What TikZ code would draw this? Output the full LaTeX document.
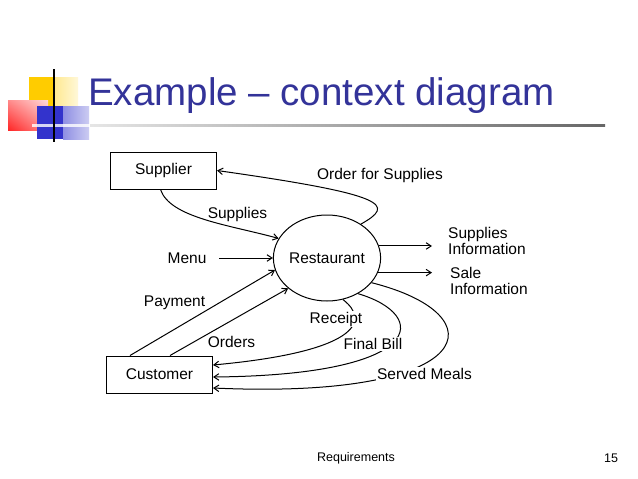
\documentclass[tikz,border=0pt]{standalone}
\usepackage{fontspec}
\setmainfont{Liberation Sans}
\usetikzlibrary{arrows.meta,shapes.geometric,shadings}
\definecolor{titleblue}{RGB}{51,51,153}
\definecolor{gold}{RGB}{255,204,0}
\definecolor{lblue}{RGB}{51,51,204}
\tikzset{
  ent/.style={draw, line width=1pt, minimum width=106pt, minimum height=37pt, inner sep=0pt, font=\fontsize{15.5}{17}\selectfont},
  proc/.style={draw, line width=1pt, ellipse, minimum width=102pt, minimum height=86pt, inner sep=0pt, font=\fontsize{15.5}{17}\selectfont},
  lbl/.style={inner sep=0pt, font=\fontsize{15.5}{17}\selectfont},
  cover/.style={fill=white, inner sep=1pt},
  flow/.style={line width=1pt, -{Straight Barb[length=5pt,width=6.5pt]}},
}
\begin{document}
\begin{tikzpicture}[x=1pt,y=-1pt]
\useasboundingbox (0,0) rectangle (638,479);
\fill[white] (0,0) rectangle (638,479);
% logo
\fill[gold] (29,77) rectangle (53,108);
\shade[left color=gold!45, right color=gold!15] (53,77) rectangle (78,108);
\shade[lower left=red!85, upper right=red!15, lower right=red!45, upper left=red!45] (8,100) rectangle (48,130);
\fill[lblue] (37,106) rectangle (63,139);
\shade[left color=lblue!55, right color=lblue!25] (63,106) rectangle (89,139);
\fill[white, opacity=0.8] (32,124) rectangle (90,126.5);
\draw[line width=2pt, black] (54,69) -- (54,142);
% title
\node[anchor=base west, inner sep=0pt, text=titleblue, font=\fontsize{38.5}{40}\selectfont] (title) at (88,105) {Example – context diagram};
\shade[left color=gray!20, right color=gray!80!black] (90,124) rectangle (605,126.5);
% nodes
\node[ent] (supplier) at (163.5,170.5) {Supplier};
\node[ent] (customer) at (159.5,374.5) {Customer};
\node[proc] (rest) at (327,258) {Restaurant};
\coordinate (sie) at (432,247);
\coordinate (sae) at (432,273);
\coordinate (menus) at (219,258);
% flows
\draw[flow] (rest.45) .. controls (395,205) and (390,195) .. (supplier.east);
\draw[flow] ([xshift=-3pt]supplier.south) .. controls (170,218) and (230,225) .. (rest.158);
\draw[flow] (menus) -- (rest.west);
\draw[flow] ([xshift=-29.5pt]customer.north) -- (rest.193);
\draw[flow] ([xshift=10.5pt]customer.north) -- (rest.218);
\draw[flow] (rest.291) .. controls (372,322) and (355,352) .. ([yshift=9.5pt]customer.east);
\draw[flow] (rest.311) .. controls (430,315) and (428,375) .. ([yshift=-2.5pt]customer.east);
\draw[flow] (rest.331) .. controls (500,315) and (480,400) .. ([yshift=-13.5pt]customer.east);
\draw[flow] (rest.13) -- (rest.13 -| sie);
\draw[flow] (rest.-16) -- (rest.-16 -| sae);
% labels
\node[lbl] (l1) at (380,175) {Order for Supplies};
\node[lbl] (l2) at (237.5,214) {Supplies};
\node[lbl] (l3) at (187,258) {Menu};
\node[lbl] (l4) at (174.5,303) {Payment};
\node[lbl] (l5) at (231.5,342) {Orders};
\node[lbl, cover] (l6) at (336,319) {Receipt};
\node[lbl, cover] (l7) at (373,344) {Final Bill};
\node[lbl, cover] (l8) at (424.5,374) {Served Meals};
\node[lbl, anchor=west, align=left, font=\fontsize{15.5}{16}\selectfont] (l9) at (448,241) {Supplies\\Information};
\node[lbl, anchor=west, align=left, font=\fontsize{15.5}{16}\selectfont] (l10) at (450,281) {Sale\\Information};
% footer
\node[lbl, font=\fontsize{12.5}{14}\selectfont] (foot) at (356,458) {Requirements};
\node[lbl, font=\fontsize{12.5}{14}\selectfont] (page) at (611,458) {15};
\end{tikzpicture}
\end{document}
